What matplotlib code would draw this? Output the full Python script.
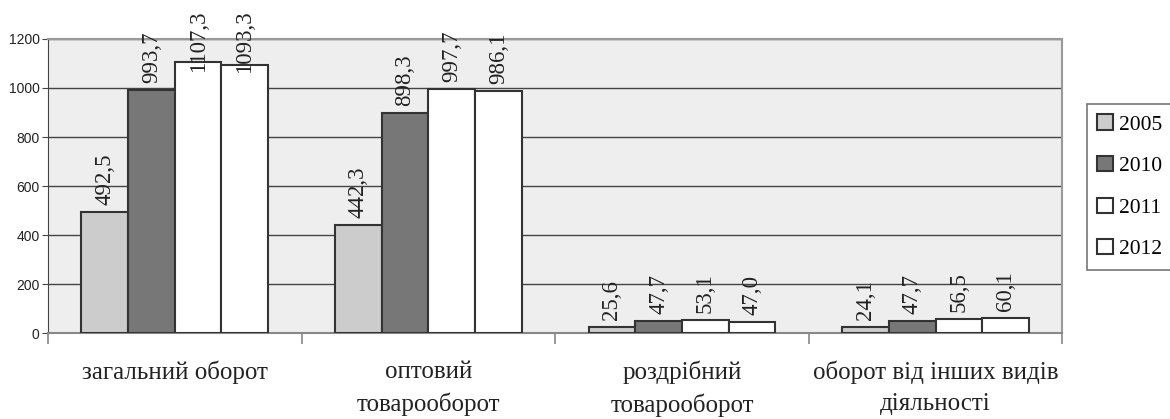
import numpy as np
import matplotlib.pyplot as plt

# Data
categories = ["загальний оборот", "оптовий\nтоварооборот",
              "роздрібний\nтоварооборот", "оборот від інших видів\nдіяльності"]
years = ["2005", "2010", "2011", "2012"]
values = {
    "2005": [492.5, 442.3, 25.6, 24.1],
    "2010": [993.7, 898.3, 47.7, 47.7],
    "2011": [1107.3, 997.7, 53.1, 56.5],
    "2012": [1093.3, 986.1, 47.0, 60.1],
}
colors = ["#cccccc", "#777777", "#ffffff", "#ffffff"]
yticks = [0, 200, 400, 600, 800, 1000, 1200]

serif = "Liberation Serif"
sans = "Liberation Sans"

fig = plt.figure(figsize=(11.7, 4.19), dpi=100)
ax = fig.add_axes([0.041, 0.205, 0.867, 0.702])
ax.set_facecolor("#eeeeee")

x = np.arange(len(categories))
w = 0.184
labels = []
for j, yr in enumerate(years):
    pos = x + (j - 1.5) * w
    bars = ax.bar(pos, values[yr], width=w, color=colors[j], edgecolor="#333333",
                  linewidth=1.5, label=yr, zorder=3)
    for b, v in zip(bars, values[yr]):
        t = ax.annotate(f"{v:.1f}".replace(".", ","),
                        (b.get_x() + b.get_width() / 2, b.get_height()),
                        xytext=(0, 5), textcoords="offset points",
                        rotation=90, ha="center", va="bottom",
                        fontsize=16.5, family=serif, color="#222222", zorder=4,
                        annotation_clip=False)
        labels.append(t)

ax.set_xlim(-0.5, 3.5)
ax.set_ylim(0, 1200)
ax.set_yticks(yticks)
ax.set_yticklabels([str(t) for t in yticks], family=sans, fontsize=10, color="#222222")
ax.yaxis.grid(True, color="#444444", linewidth=1, zorder=1)
ax.tick_params(axis="y", length=4, color="#444444", pad=2)

ax.set_xticks(x)
ax.set_xticklabels(categories, family=serif, fontsize=18, color="#222222",
                   linespacing=1.5)
ax.tick_params(axis="x", length=0, pad=20)
ax.set_xticks(np.arange(-0.5, 4, 1), minor=True)
ax.tick_params(axis="x", which="minor", length=8, color="#888888", width=1.2)

for s in ["top", "right"]:
    ax.spines[s].set_color("#999999")
    ax.spines[s].set_linewidth(1.5)
ax.spines["left"].set_color("#444444")
ax.spines["bottom"].set_color("#888888")
ax.spines["bottom"].set_linewidth(1.5)

leg = ax.legend(loc="upper left", bbox_to_anchor=(1.024, 0.78), prop={"family": serif, "size": 15.5},
                frameon=True, fancybox=False, edgecolor="#555555", handlelength=0.7,
                handleheight=0.7, handletextpad=0.3, labelspacing=1.0,
                borderpad=0.5, borderaxespad=0)
leg.get_frame().set_linewidth(1.2)

# keep value labels inside the picture, like the original chart does
fig.canvas.draw()
H = fig.bbox.height
for t in labels:
    bb = t.get_window_extent()
    over = bb.y1 - (H - 10)
    if over > 0:
        ox, oy = t.xyann
        t.xyann = (ox, oy - over * 72 / fig.dpi)

fig.savefig("out.png", dpi=100)
